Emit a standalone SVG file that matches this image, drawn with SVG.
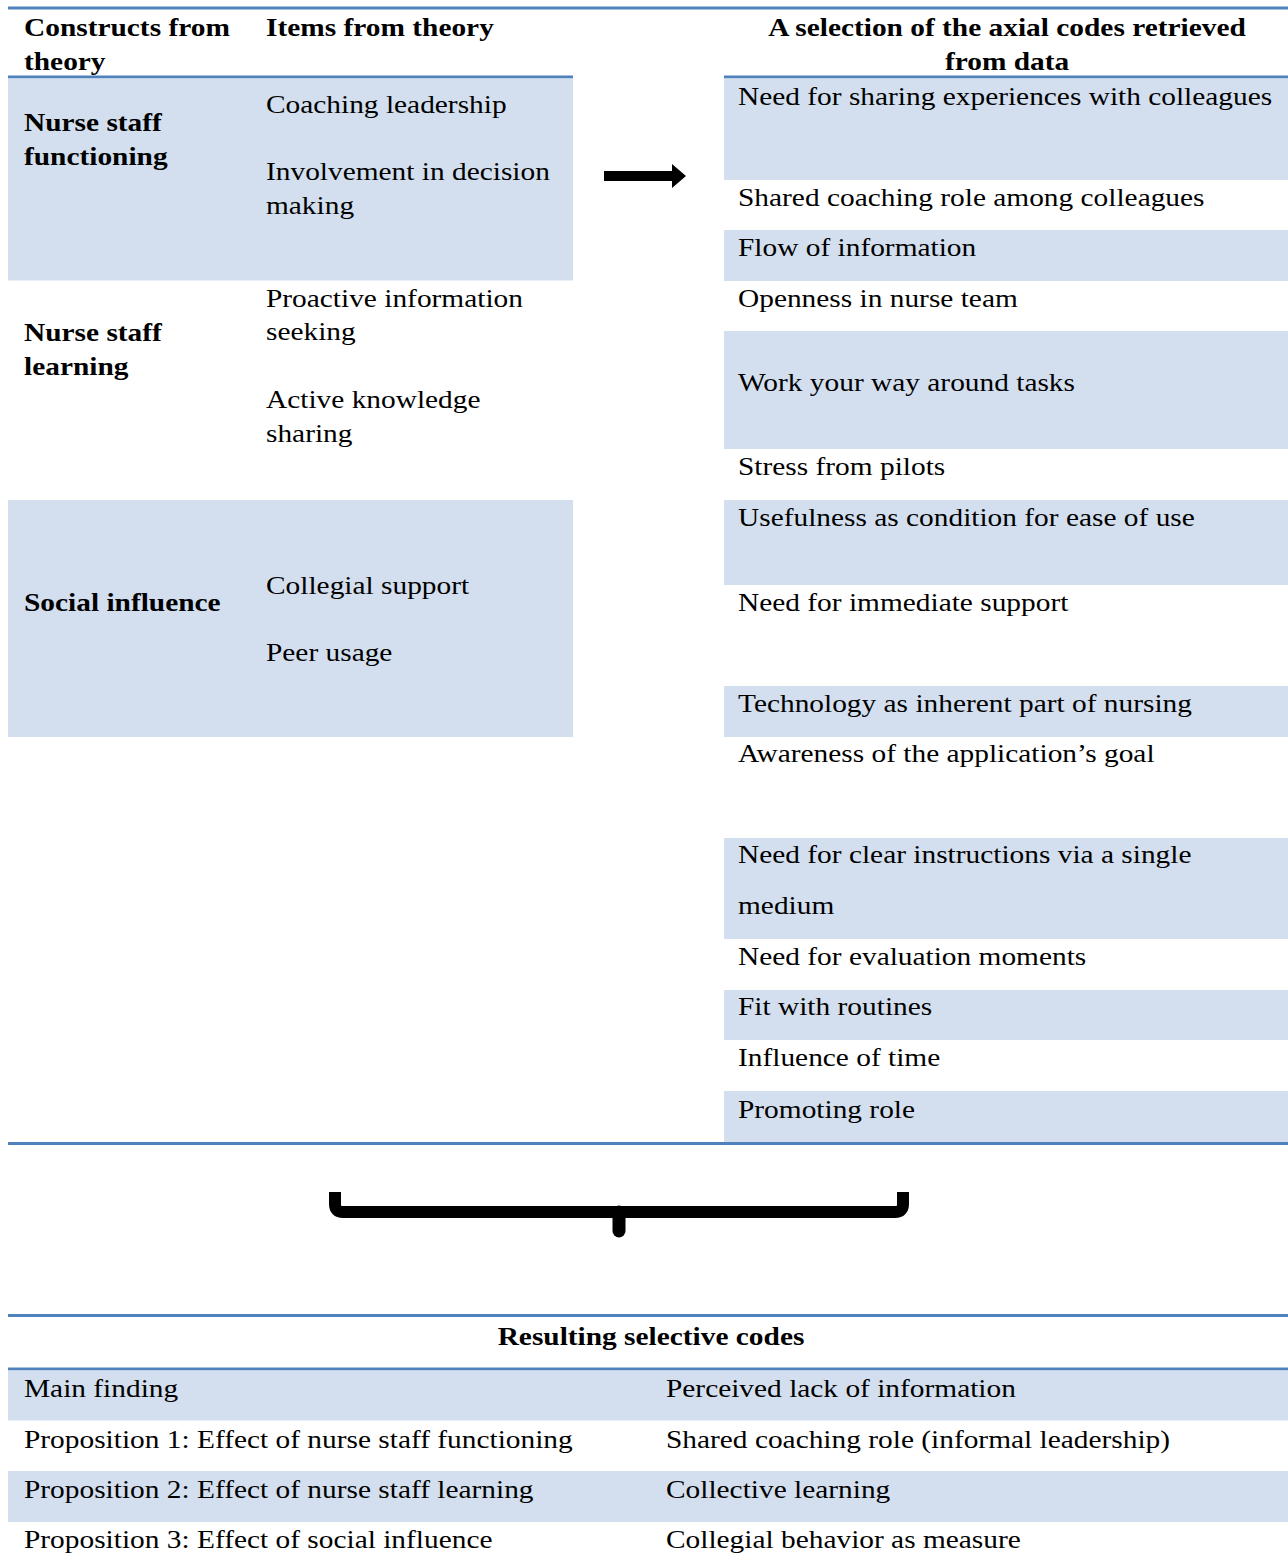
<svg xmlns="http://www.w3.org/2000/svg" width="1288" height="1568" viewBox="0 0 1288 1568">
<style>
text{font-family:"Liberation Serif","Times New Roman",serif;font-size:26px;fill:#000}
.b{font-weight:bold}
.sh{fill:#D3DFEE}
.rule{stroke:#4F81BD;stroke-width:3;fill:none}
</style>
<rect width="1288" height="1568" fill="#fff"/>
<g id="top-table">
<line class="rule" x1="8" y1="8" x2="1288" y2="8"/>
<g id="header-left">
<line class="rule" x1="8" y1="77" x2="573" y2="77"/>
<g transform="scale(1.13 1)">
<text class="b" x="21.24" y="36">Constructs from</text>
<text class="b" x="21.24" y="70">theory</text>
<text class="b" x="235.4" y="36">Items from theory</text>
</g>
</g>
<g id="header-right">
<line class="rule" x1="724" y1="77" x2="1288" y2="77"/>
<g transform="scale(1.13 1)">
<text class="b" x="891.2" y="36" text-anchor="middle">A selection of the axial codes retrieved</text>
<text class="b" x="891.2" y="70" text-anchor="middle">from data</text>
</g>
</g>
<g id="construct-functioning">
<rect class="sh" x="8" y="78.5" width="565" height="202"/>
<g transform="scale(1.13 1)">
<text class="b" x="21.24" y="131">Nurse staff</text>
<text class="b" x="21.24" y="165">functioning</text>
<text x="235.4" y="113">Coaching leadership</text>
<text x="235.4" y="180">Involvement in decision</text>
<text x="235.4" y="214">making</text>
</g>
</g>
<g id="construct-learning">
<g transform="scale(1.13 1)">
<text class="b" x="21.24" y="341">Nurse staff</text>
<text class="b" x="21.24" y="375">learning</text>
<text x="235.4" y="307">Proactive information</text>
<text x="235.4" y="340">seeking</text>
<text x="235.4" y="408">Active knowledge</text>
<text x="235.4" y="442">sharing</text>
</g>
</g>
<g id="construct-social">
<rect class="sh" x="8" y="500" width="565" height="237"/>
<g transform="scale(1.13 1)">
<text class="b" x="21.24" y="611">Social influence</text>
<text x="235.4" y="594">Collegial support</text>
<text x="235.4" y="661">Peer usage</text>
</g>
</g>
<g id="axial-codes">
<rect class="sh" x="724" y="78.5" width="564" height="101.5"/>
<rect class="sh" x="724" y="230" width="564" height="51"/>
<rect class="sh" x="724" y="331" width="564" height="118"/>
<rect class="sh" x="724" y="500" width="564" height="85"/>
<rect class="sh" x="724" y="686" width="564" height="51"/>
<rect class="sh" x="724" y="838" width="564" height="101"/>
<rect class="sh" x="724" y="990" width="564" height="50"/>
<rect class="sh" x="724" y="1091" width="564" height="51"/>
<g transform="scale(1.13 1)">
<text x="653.1" y="105">Need for sharing experiences with colleagues</text>
<text x="653.1" y="206">Shared coaching role among colleagues</text>
<text x="653.1" y="256">Flow of information</text>
<text x="653.1" y="307">Openness in nurse team</text>
<text x="653.1" y="391">Work your way around tasks</text>
<text x="653.1" y="475">Stress from pilots</text>
<text x="653.1" y="526">Usefulness as condition for ease of use</text>
<text x="653.1" y="611">Need for immediate support</text>
<text x="653.1" y="712">Technology as inherent part of nursing</text>
<text x="653.1" y="762">Awareness of the application’s goal</text>
<text x="653.1" y="863">Need for clear instructions via a single</text>
<text x="653.1" y="914">medium</text>
<text x="653.1" y="965">Need for evaluation moments</text>
<text x="653.1" y="1015">Fit with routines</text>
<text x="653.1" y="1066">Influence of time</text>
<text x="653.1" y="1118">Promoting role</text>
</g>
</g>
<line class="rule" x1="8" y1="1143.5" x2="1288" y2="1143.5"/>
</g>
<g id="connectors">
<path id="arrow" d="M604,171 H672 V164 L686,176 L672,188 V181 H604 Z" fill="#000"/>
<path id="brace" d="M335,1192 V1204 Q335,1212 343,1212 H895 Q903,1212 903,1204 V1192" fill="none" stroke="#000" stroke-width="12" stroke-linejoin="round"/>
<line x1="619" y1="1212" x2="619" y2="1231" stroke="#000" stroke-width="13" stroke-linecap="round"/>
</g>
<g id="bottom-table">
<line class="rule" x1="8" y1="1315.5" x2="1288" y2="1315.5"/>
<line class="rule" x1="8" y1="1369" x2="1288" y2="1369"/>
<rect class="sh" x="8" y="1370.5" width="1280" height="50"/>
<rect class="sh" x="8" y="1471" width="1280" height="51"/>
<g transform="scale(1.13 1)">
<text class="b" x="576.1" y="1345" text-anchor="middle">Resulting selective codes</text>
<text x="21.24" y="1397">Main finding</text>
<text x="589.38" y="1397">Perceived lack of information</text>
<text x="21.24" y="1448">Proposition 1: Effect of nurse staff functioning</text>
<text x="589.38" y="1448">Shared coaching role (informal leadership)</text>
<text x="21.24" y="1498">Proposition 2: Effect of nurse staff learning</text>
<text x="589.38" y="1498">Collective learning</text>
<text x="21.24" y="1548">Proposition 3: Effect of social influence</text>
<text x="589.38" y="1548">Collegial behavior as measure</text>
</g>
</g>
</svg>
